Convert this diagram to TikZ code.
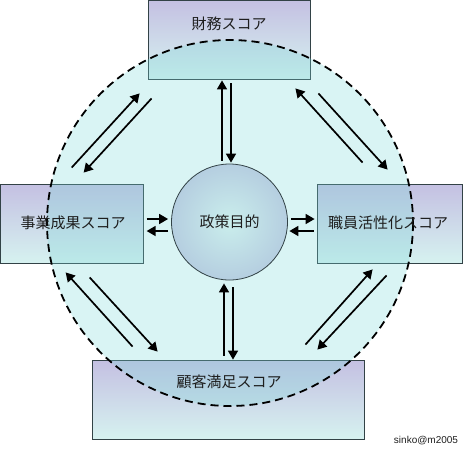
\documentclass[tikz,border=0pt]{standalone}
\usepackage{fontspec}
\newfontfamily\jpfont{Noto Sans CJK JP}
\newfontfamily\credfont{Liberation Sans}
\usepackage{tikz}
\usetikzlibrary{positioning,arrows.meta,calc}
\usepackage{xcolor}
\definecolor{boxtop}{RGB}{196,192,226}
\definecolor{boxbot}{RGB}{214,242,240}
\definecolor{boxline}{RGB}{50,66,70}
\definecolor{ringfill}{RGB}{120,215,215}
\definecolor{goalin}{RGB}{202,238,236}
\definecolor{goalout}{RGB}{160,174,212}
\definecolor{txt}{RGB}{30,30,30}
\pgfdeclareradialshading{goalshade}{\pgfpoint{0bp}{0bp}}{color(0bp)=(goalin); color(50bp)=(goalout)}

\begin{document}
\begin{tikzpicture}[x=1pt,y=-1pt,
  font=\jpfont\fontsize{15}{18}\selectfont,
  scorebox/.style={draw=boxline,line width=0.8pt,top color=boxtop,middle color=boxtop,bottom color=boxbot,minimum height=79pt,inner sep=0pt},
  lbl/.style={text=txt,inner sep=0pt},
  flow/.style={line width=1.7pt,-{Triangle[length=9pt,width=10pt]}}]
\useasboundingbox (0,0) rectangle (476,448);
\node[scorebox,minimum width=162pt] (fin) at (229,39.5) {};
\node[scorebox,minimum width=142.5pt] (biz) at (72,223.5) {};
\node[scorebox,minimum width=145pt] (staff) at (389.5,223.5) {};
\node[scorebox,minimum width=272pt] (cust) at (228,399.5) {};
\fill[ringfill,opacity=0.28] (230,223) circle (183);
\draw[line width=1.8pt,dash pattern=on 8pt off 5pt] (230,223) circle (183);
\node[lbl] at ($(fin.north)+(0,24)$) {財務スコア};
\node[lbl] at ($(cust.north)+(1,22)$) {顧客満足スコア};
\node[lbl] at (73,223) {事業成果スコア};
\node[lbl] at (388,223) {職員活性化スコア};
\node[circle,draw=boxline,line width=0.8pt,shading=goalshade,minimum size=116pt,text=txt] (goal) at (229.5,222) {政策目的};
\draw[flow] ($(goal.north)+(-7.5,-3)$) -- ($(fin.south)+(-7,1)$);
\draw[flow] ($(fin.south)+(2,4)$) -- ($(goal.north)+(1.5,-1)$);
\draw[flow] ($(cust.north)+(-4,-4)$) -- ($(goal.south)+(-5.5,3)$);
\draw[flow] ($(goal.south)+(3.5,7)$) -- ($(cust.north)+(5,0)$);
\draw[flow] ($(biz.east)+(3,-4.5)$) -- ($(goal.west)+(-3,-3)$);
\draw[flow] ($(goal.west)+(-3,9)$) -- ($(biz.east)+(3,7.5)$);
\draw[flow] ($(goal.east)+(3.5,-3)$) -- ($(staff.west)+(-2,-4.5)$);
\draw[flow] ($(staff.west)+(-3,7.5)$) -- ($(goal.east)+(1.5,9)$);
\draw[flow] ($(biz.north east)+(-72,-16)$) -- ($(fin.south west)+(-8,14)$);
\draw[flow] ($(fin.south west)+(4,19)$) -- ($(biz.north east)+(-60,-11)$);
\draw[flow] ($(staff.north west)+(46,-21)$) -- ($(fin.south east)+(-15,9)$);
\draw[flow] ($(fin.south east)+(8,14)$) -- ($(staff.north west)+(71,-14)$);
\draw[flow] ($(cust.north west)+(41,-13)$) -- ($(biz.south east)+(-78,9)$);
\draw[flow] ($(biz.south east)+(-54,14)$) -- ($(cust.north west)+(66,-8)$);
\draw[flow] ($(cust.north east)+(-59,-15)$) -- ($(staff.south west)+(56,6)$);
\draw[flow] ($(staff.south west)+(70,12)$) -- ($(cust.north east)+(-47,-10)$);
\node[text=txt,inner sep=0pt,font=\credfont\fontsize{10}{12}\selectfont] (credit) at (426,441) {sinko@m2005};
\end{tikzpicture}
\end{document}
